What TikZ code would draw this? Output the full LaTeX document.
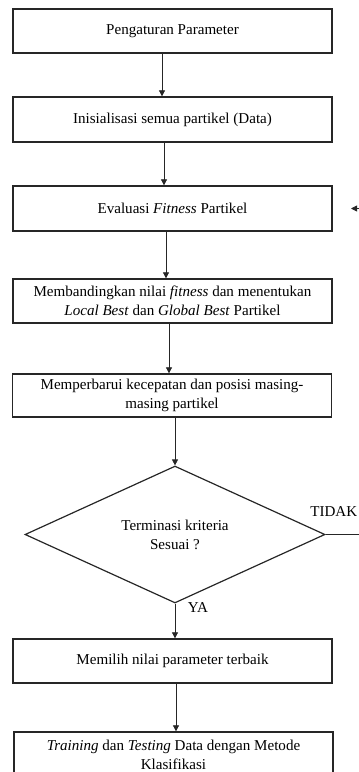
\documentclass[tikz,border=0pt]{standalone}
\usepackage{fontspec}
\setmainfont{Liberation Serif}
\usetikzlibrary{shapes.geometric,arrows.meta}
\begin{document}
\begin{tikzpicture}[x=0.75pt,y=-0.75pt,
  txt/.style={font=\fontsize{11.3}{14.25}\selectfont},
  box/.style={txt, draw=black!85, line width=1pt, minimum width=239.25pt, inner sep=0pt, align=center},
  dec/.style={txt, draw=black!85, line width=0.9pt, shape=diamond, minimum width=225pt, minimum height=86.25pt, inner sep=0pt, align=center},
  arr/.style={-{Triangle[length=4.5pt,width=4.5pt]}, line width=0.6pt, draw=black!85},
  lbl/.style={txt, inner sep=0pt}]
\useasboundingbox (0,0) rectangle (358,772);
\node[box, minimum height=33pt] (b1) at (172.5,31) {Pengaturan Parameter};
\node[box, minimum height=33.75pt] (b2) at (172.5,119.5) {Inisialisasi semua partikel (Data)};
\node[box, minimum height=33.75pt] (b3) at (172.5,208.5) {Evaluasi \textit{Fitness} Partikel};
\node[box, minimum height=33pt] (b4) at (172.5,301) {Membandingkan nilai \textit{fitness} dan menentukan\\\textit{Local Best} dan \textit{Global Best} Partikel};
\node[box, minimum height=32.25pt] (b5) at (172,395.5) {Memperbarui kecepatan dan posisi masing-\\masing partikel};
\node[dec] (d) at (175,534.5) {Terminasi kriteria\\Sesuai ?};
\node[box, minimum height=33pt] (b6) at (172.5,661) {Memilih nilai parameter terbaik};
\node[box, minimum height=34.5pt] (b7) at (173.5,755) {\textit{Training} dan \textit{Testing} Data dengan Metode\\Klasifikasi};
\draw[arr] ([xshift=-7.875pt]b1.south) -- ([xshift=-7.875pt]b1.south |- b2.north);
\draw[arr] ([xshift=-6.375pt]b2.south) -- ([xshift=-6.375pt]b2.south |- b3.north);
\draw[arr] ([xshift=-4.875pt]b3.south) -- ([xshift=-4.875pt]b3.south |- b4.north);
\draw[arr] ([xshift=-2.625pt]b4.south) -- ([xshift=-2.625pt]b4.south |- b5.north);
\draw[arr] (b5.south -| d.north) -- (d.north);
\draw[arr] (d.south) -- (d.south |- b6.north);
\draw[arr] ([xshift=2.625pt]b6.south) -- ([xshift=2.625pt]b6.south |- b7.north);
\coordinate (r1) at (365,534.5);
\draw[line width=0.6pt, draw=black!85] (d.east) -- (r1);
\coordinate (r2) at (368,208.5);
\coordinate (r3) at (351,208.5);
\draw[arr] (r2) -- (r3);
\node[lbl, anchor=base east] (tidak) at (357.5,516) {TIDAK};
\node[lbl] (ya) at (198,608) {YA};
\end{tikzpicture}
\end{document}
